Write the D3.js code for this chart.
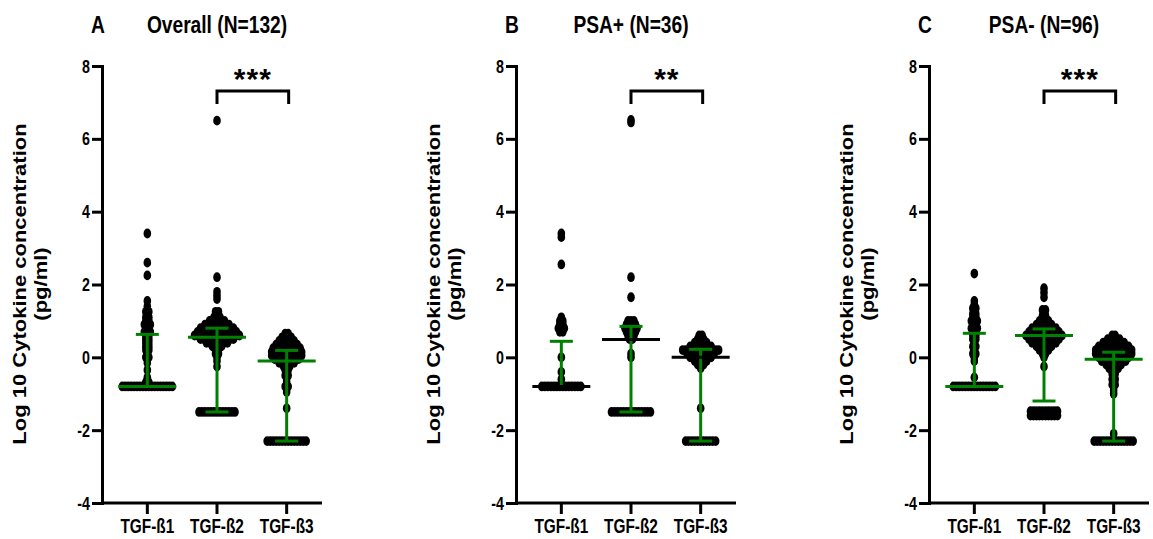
<!DOCTYPE html>
<html>
<head>
<meta charset="utf-8">
<script src="https://cdn.jsdelivr.net/npm/d3@7"></script>
<style>
  body { margin: 0; background: #fff; }
  text { font-family: "Liberation Sans", Arial, sans-serif; font-weight: bold; fill: #000; }
</style>
</head>
<body>
<svg id="chart" width="1153" height="539"></svg>
<script>
// categories and labels
var categories = ["TGF-ß1", "TGF-ß2", "TGF-ß3"];
var panelLetters = ["A", "B", "C"];
var panelTitles = ["Overall (N=132)", "PSA+ (N=36)", "PSA- (N=96)"];
var yTicks = [-4, -2, 0, 2, 4, 6, 8];
var significance = ["***", "**", "***"];

// points as [log10 value, how many points at that value]
var overallB1 = [[3.4,1],[2.6,1],[2.25,1],[1.55,1],[1.4,1],[1.25,2],[1.1,2],[1.0,2],[0.9,3],[0.8,2],[0.7,3],[0.6,2],[0.5,2],[0.4,2],[0.3,2],[0.2,2],[0.1,1],[0.0,2],[-0.15,1],[-0.35,1],[-0.55,1],[-0.68,2],[-0.8,18]];
var overallB2 = [[6.5,1],[2.2,1],[1.8,1],[1.7,1],[1.6,1],[1.25,2],[1.1,3],[1.0,6],[0.9,9],[0.8,12],[0.7,14],[0.6,16],[0.5,12],[0.4,8],[0.3,4],[0.2,2],[0.1,2],[0.0,1],[-0.1,1],[-0.25,1],[-1.5,13]];
var overallB3 = [[0.65,2],[0.55,4],[0.45,6],[0.35,8],[0.25,10],[0.15,11],[0.05,11],[-0.05,9],[-0.15,6],[-0.25,3],[-0.35,2],[-0.5,2],[-0.65,1],[-0.8,2],[-0.95,1],[-1.4,1],[-2.3,14]];

var psaPosB1 = [[3.4,1],[3.3,1],[2.55,1],[1.1,1],[1.0,2],[0.9,2],[0.8,3],[0.7,2],[0.0,1],[-0.4,1],[-0.6,1],[-0.8,14]];
var psaPosB2 = [[6.52,1],[6.45,1],[2.2,1],[1.65,1],[1.0,3],[0.9,4],[0.8,5],[0.7,4],[0.6,3],[0.5,2],[0.1,1],[0.0,1],[-1.5,14]];
var psaPosB3 = [[0.6,2],[0.5,3],[0.4,5],[0.3,8],[0.2,13],[0.1,10],[0.0,8],[-0.1,5],[-0.2,3],[-0.3,1],[-1.4,1],[-2.3,11]];

var psaNegB1 = [[2.3,1],[1.55,1],[1.45,1],[1.35,2],[1.2,2],[1.1,2],[1.0,3],[0.9,2],[0.8,3],[0.7,2],[0.6,2],[0.5,2],[0.4,1],[0.3,2],[0.2,1],[0.1,2],[0.0,1],[-0.1,1],[-0.55,1],[-0.8,15]];
var psaNegB2 = [[1.9,1],[1.78,1],[1.65,1],[1.3,2],[1.15,2],[1.0,4],[0.9,6],[0.8,9],[0.7,11],[0.6,13],[0.5,11],[0.4,9],[0.3,6],[0.2,4],[0.1,2],[0.0,1],[-0.25,1],[-1.48,10],[-1.6,10]];
var psaNegB3 = [[0.6,2],[0.5,5],[0.4,8],[0.3,11],[0.2,13],[0.1,13],[0.0,11],[-0.1,9],[-0.2,6],[-0.3,4],[-0.45,2],[-0.6,2],[-0.75,2],[-0.9,1],[-1.0,1],[-2.1,1],[-2.3,14]];

// median and error bar ends
var overallMedian = [-0.8, 0.55, -0.1];
var overallLower = [-0.8, -1.5, -2.3];
var overallUpper = [0.63, 0.8, 0.19];
var psaPosMedian = [-0.8, 0.49, 0.0];
var psaPosLower = [-0.8, -1.5, -2.3];
var psaPosUpper = [0.44, 0.85, 0.22];
var psaNegMedian = [-0.8, 0.6, -0.05];
var psaNegLower = [-0.8, -1.2, -2.3];
var psaNegUpper = [0.66, 0.78, 0.14];

var panels = [
  { points: [overallB1, overallB2, overallB3], median: overallMedian, lower: overallLower, upper: overallUpper, medianColor: "#008000" },
  { points: [psaPosB1, psaPosB2, psaPosB3], median: psaPosMedian, lower: psaPosLower, upper: psaPosUpper, medianColor: "#000" },
  { points: [psaNegB1, psaNegB2, psaNegB3], median: psaNegMedian, lower: psaNegLower, upper: psaNegUpper, medianColor: "#008000" }
];

var axisX = [102, 516, 929];
var green = "#008000";

var svg = d3.select("#chart");

var y = d3.scaleLinear().domain([-4, 8]).range([503, 66]);

panels.forEach(function(p, k) {
  var g = svg.append("g").attr("transform", "translate(" + axisX[k] + ",0)");
  var x = d3.scaleBand().domain(categories).range([10.5, 219.5]);
  var cx = function(c) { return x(c) + x.bandwidth() / 2; };

  // y axis
  var ya = g.append("g")
    .call(d3.axisLeft(y).tickValues(yTicks).tickSize(10).tickSizeOuter(0).tickPadding(2)
      .tickFormat(function(d) { return String(d); }));
  ya.select(".domain").attr("stroke-width", 3).attr("stroke-linecap", "square");
  ya.selectAll(".tick line").attr("stroke-width", 3);
  ya.selectAll(".tick text")
    .style("font-size", "19px")
    .attr("x", -12 / 0.75)
    .attr("transform", "scale(0.75,1)");

  // x axis
  var xa = g.append("g")
    .attr("transform", "translate(0," + y(-4) + ")")
    .call(d3.axisBottom(x).tickSize(11).tickSizeOuter(0).tickPadding(5));
  xa.select(".domain").remove();
  xa.append("line").attr("x1", 0).attr("x2", 220).attr("stroke", "#000").attr("stroke-width", 3);
  xa.selectAll(".tick line").attr("stroke-width", 3);
  xa.selectAll(".tick text")
    .style("font-size", "20px")
    .attr("transform", "scale(0.77,1)");

  // dots
  p.points.forEach(function(rows, i) {
    var dots = [];
    rows.forEach(function(r) {
      var n = r[1];
      var step = n > 1 ? Math.min(3, 50 / (n - 1)) : 0;
      for (var j = 0; j < n; j++) {
        dots.push({ v: r[0], dx: (j - (n - 1) / 2) * step });
      }
    });
    g.append("g").selectAll("ellipse")
      .data(dots)
      .enter()
      .append("ellipse")
      .attr("cx", function(d) { return cx(categories[i]) + d.dx; })
      .attr("cy", function(d) { return y(d.v); })
      .attr("rx", 3.8)
      .attr("ry", 4.9)
      .attr("fill", "#000");
  });

  // error bars and median
  categories.forEach(function(c, i) {
    var xc = cx(c);
    var eb = g.append("g").attr("stroke", green).attr("stroke-width", 3);
    eb.append("line").attr("x1", xc).attr("x2", xc).attr("y1", y(p.lower[i])).attr("y2", y(p.upper[i]));
    eb.append("line").attr("x1", xc - 11.5).attr("x2", xc + 11.5).attr("y1", y(p.upper[i])).attr("y2", y(p.upper[i]));
    eb.append("line").attr("x1", xc - 11.5).attr("x2", xc + 11.5).attr("y1", y(p.lower[i])).attr("y2", y(p.lower[i]));
    g.append("line")
      .attr("x1", xc - 29).attr("x2", xc + 29)
      .attr("y1", y(p.median[i])).attr("y2", y(p.median[i]))
      .attr("stroke", p.medianColor).attr("stroke-width", 3);
  });

  // significance bracket between TGF-ß2 and TGF-ß3
  var x1 = cx(categories[1]), x2 = cx(categories[2]) + 2;
  g.append("path")
    .attr("d", "M" + x1 + ",104V91H" + x2 + "V104")
    .attr("fill", "none").attr("stroke", "#000").attr("stroke-width", 3);
  g.append("text")
    .attr("x", (x1 + x2) / 2).attr("y", 89)
    .attr("text-anchor", "middle")
    .style("font-size", "30px")
    .style("letter-spacing", "1px")
    .text(significance[k]);

  // panel letter and title
  g.append("text")
    .attr("transform", "translate(-4,33) scale(0.8,1)")
    .attr("text-anchor", "middle")
    .style("font-size", "24px")
    .text(panelLetters[k]);
  g.append("text")
    .attr("transform", "translate(" + cx(categories[1]) + ",33) scale(0.8,1)")
    .attr("text-anchor", "middle")
    .style("font-size", "24px")
    .text(panelTitles[k]);

  // y axis title, two lines
  g.append("text")
    .attr("transform", "translate(-82,284) scale(0.8,1) rotate(-90)")
    .attr("text-anchor", "middle")
    .attr("dy", "0.36em")
    .style("font-size", "22px")
    .text("Log 10 Cytokine concentration");
  g.append("text")
    .attr("transform", "translate(-61,284) scale(0.8,1) rotate(-90)")
    .attr("text-anchor", "middle")
    .attr("dy", "0.36em")
    .style("font-size", "22px")
    .text("(pg/ml)");
});
</script>
</body>
</html>
